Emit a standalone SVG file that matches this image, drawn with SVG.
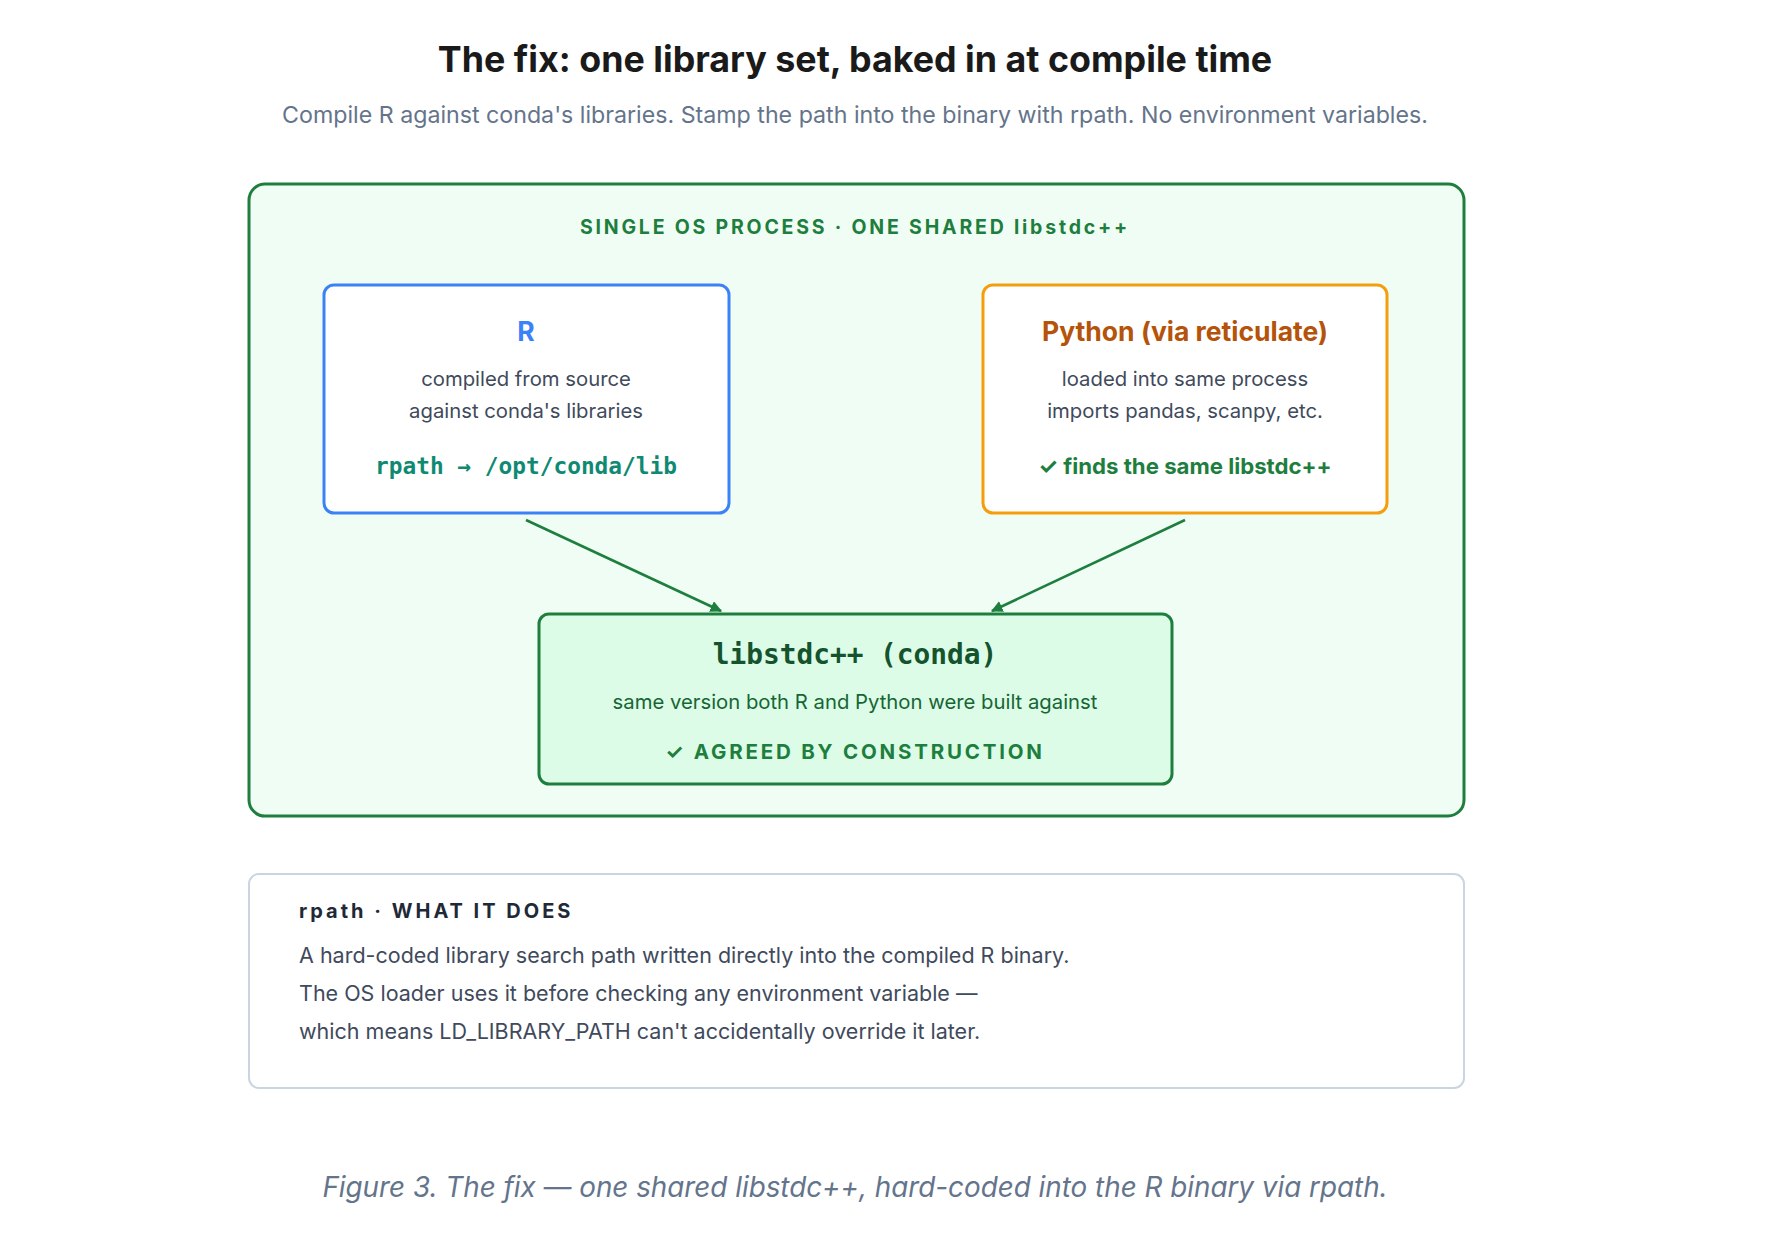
<svg xmlns="http://www.w3.org/2000/svg" width="1774" height="1246" viewBox="0 0 1774 1246">
<defs>
<style>
.sans{font-family:Inter,"Liberation Sans",sans-serif}
.mono{font-family:"DejaVu Sans Mono","Liberation Mono",monospace;font-weight:bold}
.body{font-size:20.3px;fill:#3f4a5c}
.conn{stroke:#1e7e3e;stroke-width:2.6;fill:none;marker-end:url(#ah)}
</style>
<marker id="ah" viewBox="0 0 10 10" refX="9" refY="5" markerWidth="4.5" markerHeight="4.5" orient="auto-start-reverse">
<path d="M0,0 L10,5 L0,10 z" fill="#1e7e3e"/>
</marker>
</defs>
<rect width="1774" height="1246" fill="#ffffff"/>
<g id="title">
<text x="855" y="72" text-anchor="middle" class="sans" font-size="35.8" font-weight="700" fill="#1a1a1a">The fix: one library set, baked in at compile time</text>
<text x="855" y="123" text-anchor="middle" class="sans" font-size="23.2" fill="#64748b">Compile R against conda's libraries. Stamp the path into the binary with rpath. No environment variables.</text>
</g>
<g id="process">
<rect x="249" y="184" width="1215" height="632" rx="16" fill="#f0fdf4" stroke="#1e7e3e" stroke-width="3"/>
<text x="855" y="234" text-anchor="middle" class="sans" font-size="19.5" font-weight="700" letter-spacing="2.8" fill="#1e7e3e">SINGLE OS PROCESS · ONE SHARED libstdc++</text>
</g>
<g id="connectors">
<line class="conn" x1="526" y1="520" x2="721" y2="611"/>
<line class="conn" x1="1185" y1="520" x2="992" y2="611"/>
</g>
<g id="node-r">
<rect x="324" y="285" width="405" height="228" rx="10" fill="#ffffff" stroke="#3b82f6" stroke-width="3"/>
<text x="526" y="341" text-anchor="middle" class="sans" font-size="26.5" font-weight="700" fill="#3b82f6">R</text>
<text x="526" y="386" text-anchor="middle" class="sans body">compiled from source</text>
<text x="526" y="418" text-anchor="middle" class="sans body">against conda's libraries</text>
<text x="526" y="474" text-anchor="middle" class="mono" font-size="22.8" fill="#0f8a72">rpath → /opt/conda/lib</text>
</g>
<g id="node-python">
<rect x="983" y="285" width="404" height="228" rx="10" fill="#ffffff" stroke="#f59e0b" stroke-width="3"/>
<text x="1185" y="341" text-anchor="middle" class="sans" font-size="26.5" font-weight="700" fill="#b45309">Python (via reticulate)</text>
<text x="1185" y="386" text-anchor="middle" class="sans body">loaded into same process</text>
<text x="1185" y="418" text-anchor="middle" class="sans body">imports pandas, scanpy, etc.</text>
<text x="1185" y="474" text-anchor="middle" class="sans" font-size="22.2" font-weight="700" fill="#1e7e3e">✓ finds the same libstdc++</text>
</g>
<g id="node-libstdcxx">
<rect x="539" y="614" width="633" height="170" rx="10" fill="#dcfce7" stroke="#1e7e3e" stroke-width="3"/>
<text x="855" y="664" text-anchor="middle" class="mono" font-size="27.8" fill="#14532d">libstdc++ (conda)</text>
<text x="855" y="709" text-anchor="middle" class="sans" font-size="20.3" fill="#166534">same version both R and Python were built against</text>
<text x="855" y="759" text-anchor="middle" class="sans" font-size="20.5" font-weight="700" letter-spacing="2.8" fill="#1e7e3e">✓ AGREED BY CONSTRUCTION</text>
</g>
<g id="info">
<rect x="249" y="874" width="1215" height="214" rx="10" fill="#ffffff" stroke="#cbd5e1" stroke-width="2"/>
<text x="299" y="918" class="sans" font-size="20" font-weight="700" letter-spacing="3" fill="#1f2937">rpath · WHAT IT DOES</text>
<text x="299" y="963" class="sans" font-size="21.5" fill="#3f4a5c">A hard-coded library search path written directly into the compiled R binary.</text>
<text x="299" y="1001" class="sans" font-size="21.5" fill="#3f4a5c">The OS loader uses it before checking any environment variable —</text>
<text x="299" y="1039" class="sans" font-size="21.5" fill="#3f4a5c">which means LD_LIBRARY_PATH can't accidentally override it later.</text>
</g>
<g id="caption">
<text x="855" y="1197" text-anchor="middle" class="sans" font-size="27.8" font-style="italic" fill="#64748b">Figure 3. The fix — one shared libstdc++, hard-coded into the R binary via rpath.</text>
</g>
</svg>
